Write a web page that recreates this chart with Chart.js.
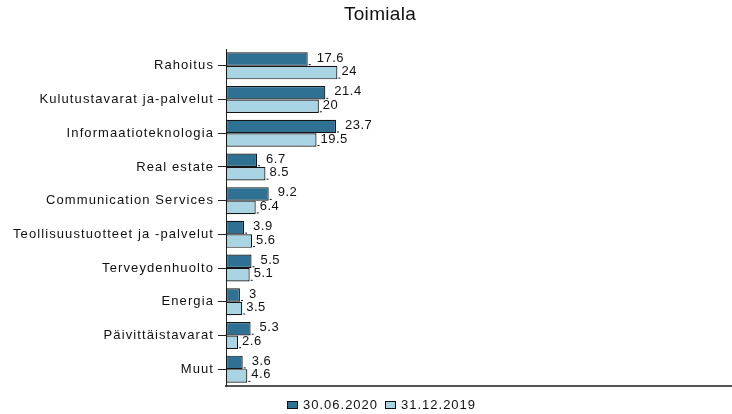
<!DOCTYPE html>
<html lang="fi">
<head>
    <meta charset="UTF-8">
    <title>Toimiala</title>
    <script src="https://cdn.jsdelivr.net/npm/chart.js"></script>
    <style>
        body { margin: 0; background: #fff; }
        #wrap { width: 732px; height: 414px; }
    </style>
</head>
<body>
    <div id="wrap"><canvas id="sectorChart" width="732" height="414"></canvas></div>
    <script>
        const categories = ['Rahoitus', 'Kulutustavarat ja-palvelut', 'Informaatioteknologia', 'Real estate',
            'Communication Services', 'Teollisuustuotteet ja -palvelut', 'Terveydenhuolto', 'Energia',
            'Päivittäistavarat', 'Muut'];
        const june2020 = [17.6, 21.4, 23.7, 6.7, 9.2, 3.9, 5.5, 3, 5.3, 3.6];
        const dec2019 = [24, 20, 19.5, 8.5, 6.4, 5.6, 5.1, 3.5, 2.6, 4.6];
        const seriesNames = ['30.06.2020', '31.12.2019'];
        const seriesColors = ['#2f7193', '#a8d4e4'];

        const font = '"Liberation Sans", Arial, sans-serif';

        // wide letter spacing for the axis labels, hand drawn title, value labels and legend
        const extras = {
            id: 'extras',
            beforeDraw(chart) {
                chart.ctx.letterSpacing = '1.1px';
            },
            beforeDatasetsDraw(chart) {
                chart.ctx.letterSpacing = '0px';
            },
            afterDatasetsDraw(chart) {
                const ctx = chart.ctx;
                ctx.save();
                ctx.fillStyle = '#111';
                ctx.strokeStyle = '#111';
                ctx.lineWidth = 1;
                ctx.font = '13px ' + font;
                ctx.letterSpacing = '0.5px';
                ctx.textBaseline = 'middle';
                ctx.textAlign = 'left';
                chart.data.datasets.forEach((ds, i) => {
                    chart.getDatasetMeta(i).data.forEach((bar, j) => {
                        const x = bar.x, y = bar.y;
                        ctx.beginPath();
                        ctx.moveTo(x + 1, y + 5.5);
                        ctx.lineTo(x + 3, y + 5.5);
                        ctx.stroke();
                        ctx.fillText(String(ds.data[j]), x + (i === 0 ? 9 : 4), y - 1);
                    });
                });

                // title
                ctx.letterSpacing = '0.3px';
                ctx.font = '19px ' + font;
                ctx.textAlign = 'center';
                ctx.fillText('Toimiala', 380, 15);

                // legend
                ctx.font = '13px ' + font;
                ctx.letterSpacing = '1px';
                ctx.textAlign = 'left';
                let lx = 287;
                const ly = 405;
                seriesNames.forEach((name, i) => {
                    ctx.fillStyle = seriesColors[i];
                    ctx.fillRect(lx, ly - 4, 11, 8);
                    ctx.strokeRect(lx + 0.5, ly - 3.5, 10, 7);
                    ctx.fillStyle = '#111';
                    ctx.fillText(name, lx + 16, ly);
                    lx += 98;
                });
                ctx.restore();
            }
        };

        new Chart(document.getElementById('sectorChart'), {
            type: 'bar',
            data: {
                labels: categories,
                datasets: seriesNames.map((name, i) => ({
                    label: name,
                    data: [june2020, dec2019][i],
                    backgroundColor: seriesColors[i],
                    borderColor: '#151515',
                    borderWidth: 1.2,
                    borderSkipped: false,
                    categoryPercentage: 0.8,
                    barPercentage: 1.0
                }))
            },
            options: {
                indexAxis: 'y',
                responsive: false,
                animation: false,
                layout: { padding: { top: 49, bottom: 28, right: 0, left: 0 } },
                plugins: {
                    legend: { display: false },
                    title: { display: false },
                    tooltip: { enabled: false }
                },
                scales: {
                    x: {
                        min: 0,
                        max: 109,
                        grid: { display: false },
                        ticks: { display: false },
                        border: { display: true, color: '#555', width: 2 },
                        afterFit(scale) { scale.height = 0; }
                    },
                    y: {
                        grid: { display: true, drawOnChartArea: false, offset: false, tickLength: 8, color: '#222' },
                        border: { display: true, color: '#222', width: 1 },
                        ticks: {
                            color: '#111',
                            font: { family: font, size: 13 },
                            padding: 4
                        },
                        afterFit(scale) { scale.width = 226; }
                    }
                }
            },
            plugins: [extras]
        });
    </script>
</body>
</html>
